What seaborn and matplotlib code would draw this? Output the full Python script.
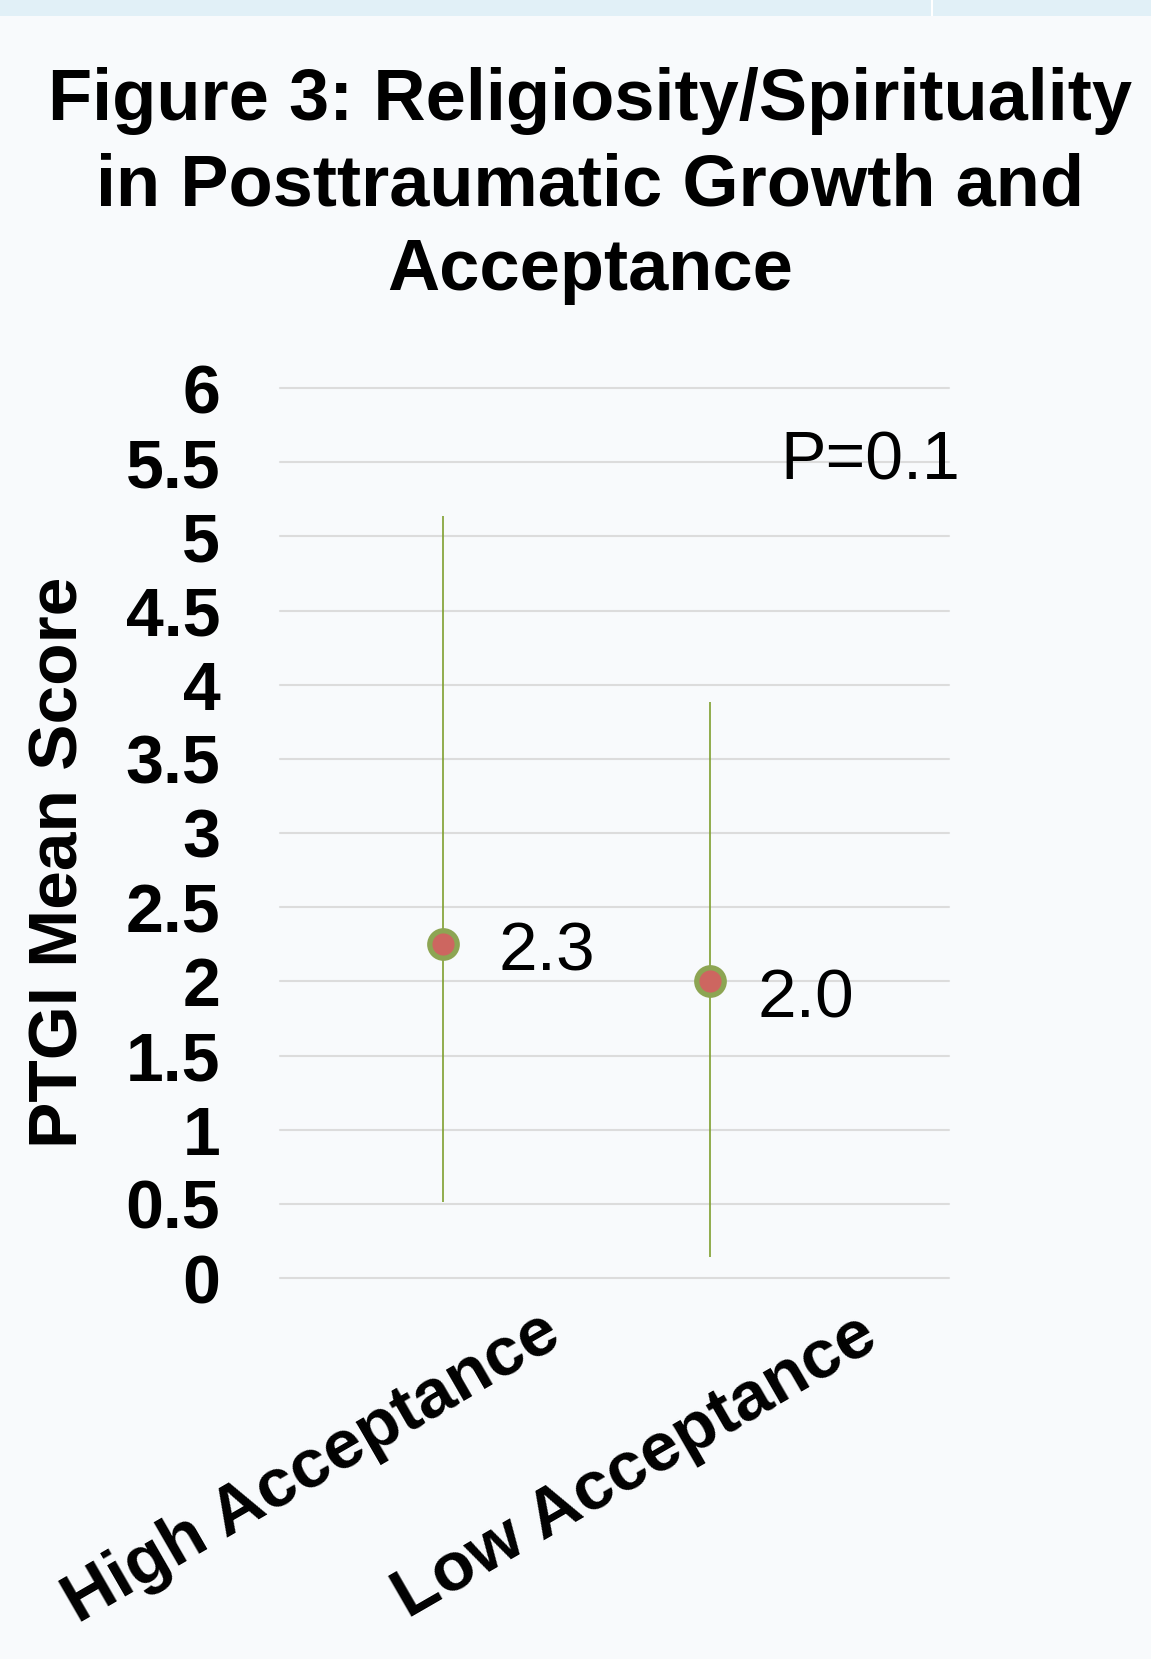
import numpy as np
import pandas as pd
import matplotlib
matplotlib.use("Agg")
import matplotlib.pyplot as plt
import matplotlib.transforms as mtransforms
from matplotlib.patches import Rectangle
import seaborn as sns

# ---- data ----
groups = ["High Acceptance", "Low Acceptance"]
means = [2.25, 2.0]
lower = [0.51, 0.14]
upper = [5.14, 3.88]
value_labels = ["2.3", "2.0"]
y_ticks = [0, 0.5, 1, 1.5, 2, 2.5, 3, 3.5, 4, 4.5, 5, 5.5, 6]
y_tick_labels = ["0", "0.5", "1", "1.5", "2", "2.5", "3", "3.5", "4", "4.5", "5", "5.5", "6"]
title = "Figure 3: Religiosity/Spirituality\nin Posttraumatic Growth and\nAcceptance"
y_label = "PTGI Mean Score"
p_text = "P=0.1"

df = pd.DataFrame({"group": groups, "mean": means, "lower": lower, "upper": upper})

sns.set_theme(style="white")
plt.rcParams["font.family"] = ["Liberation Sans", "DejaVu Sans"]
plt.rcParams["text.color"] = "black"
plt.rcParams["axes.labelcolor"] = "black"
plt.rcParams["xtick.color"] = "black"
plt.rcParams["ytick.color"] = "black"

BG = "#F8FAFC"
W, H = 1151, 1659
fig = plt.figure(figsize=(W / 100, H / 100), dpi=100, facecolor=BG)

# top strip of the poster panel
fig.patches.append(Rectangle((0, 1 - 16 / H), 1, 16 / H, transform=fig.transFigure,
                             facecolor="#E1F0F7", edgecolor="none", zorder=0))
fig.patches.append(Rectangle((931 / W, 1 - 16 / H), 2.5 / W, 16 / H, transform=fig.transFigure,
                             facecolor="white", edgecolor="none", zorder=1))

left, right, top, bottom = 280, 949, 388, 1278
ax = fig.add_axes([left / W, 1 - bottom / H, (right - left) / W, (bottom - top) / H])
ax.set_facecolor(BG)

pos = np.arange(len(groups))
ax.vlines(pos, df["lower"], df["upper"], color="#7F9F2F", linewidth=1.2, zorder=2)
sns.scatterplot(data=df, x="group", y="mean", ax=ax, s=390, color="#CD6660",
                edgecolor="#8DA553", linewidth=3.8, zorder=3, legend=False)

ax.set_xlim(-0.6106, 1.895)
ax.set_ylim(0, 6)
ax.set_yticks(y_ticks)
ax.set_yticklabels(y_tick_labels)
ax.yaxis.grid(True, color="#DCDCDC", linewidth=1.5)
ax.xaxis.grid(False)
for gl in ax.get_ygridlines():
    gl.set_clip_on(False)
for s in ax.spines.values():
    s.set_visible(False)

ax.tick_params(axis="y", length=0, pad=43, labelsize=49, labelcolor="black")
for lab in ax.get_yticklabels():
    lab.set_fontweight("bold")

ax.set_xticks(pos)
ax.set_xticklabels(groups, fontsize=50, fontweight="bold", rotation=30,
                   ha="center", va="center", rotation_mode="anchor", color="black")
ax.tick_params(axis="x", length=0, pad=0)
ax.set_xlabel("")
offsets = [(-131, -190), (-75, -189)]
for lab, (dx, dy) in zip(ax.get_xticklabels(), offsets):
    lab.set_transform(lab.get_transform() +
                      mtransforms.ScaledTranslation(dx / 100, dy / 100, fig.dpi_scale_trans))

ax.set_ylabel(y_label, fontsize=50, fontweight="bold", color="black")
ax.yaxis.set_label_coords((60 - left) / (right - left), (bottom - 862) / (bottom - top))
ax.yaxis.label.set_va("center")

# data labels
label_offsets = [(40, -18.7), (34, -26)]
for x, m, t, (ox, oy) in zip(pos, means, value_labels, label_offsets):
    ax.annotate(t, (x, m), xytext=(ox, oy), textcoords="offset points",
                ha="left", va="baseline", fontsize=50, color="black")

ax.text((780 - left) / (right - left), (bottom - 479) / (bottom - top), p_text,
        transform=ax.transAxes, ha="left", va="baseline", fontsize=49, color="black",
        clip_on=False)

fig.text(590 / W, 1 - 186 / H, title, ha="center", va="center", fontsize=52,
         fontweight="bold", linespacing=1.33, color="black")

fig.savefig("out.png", dpi=100, facecolor=BG)
